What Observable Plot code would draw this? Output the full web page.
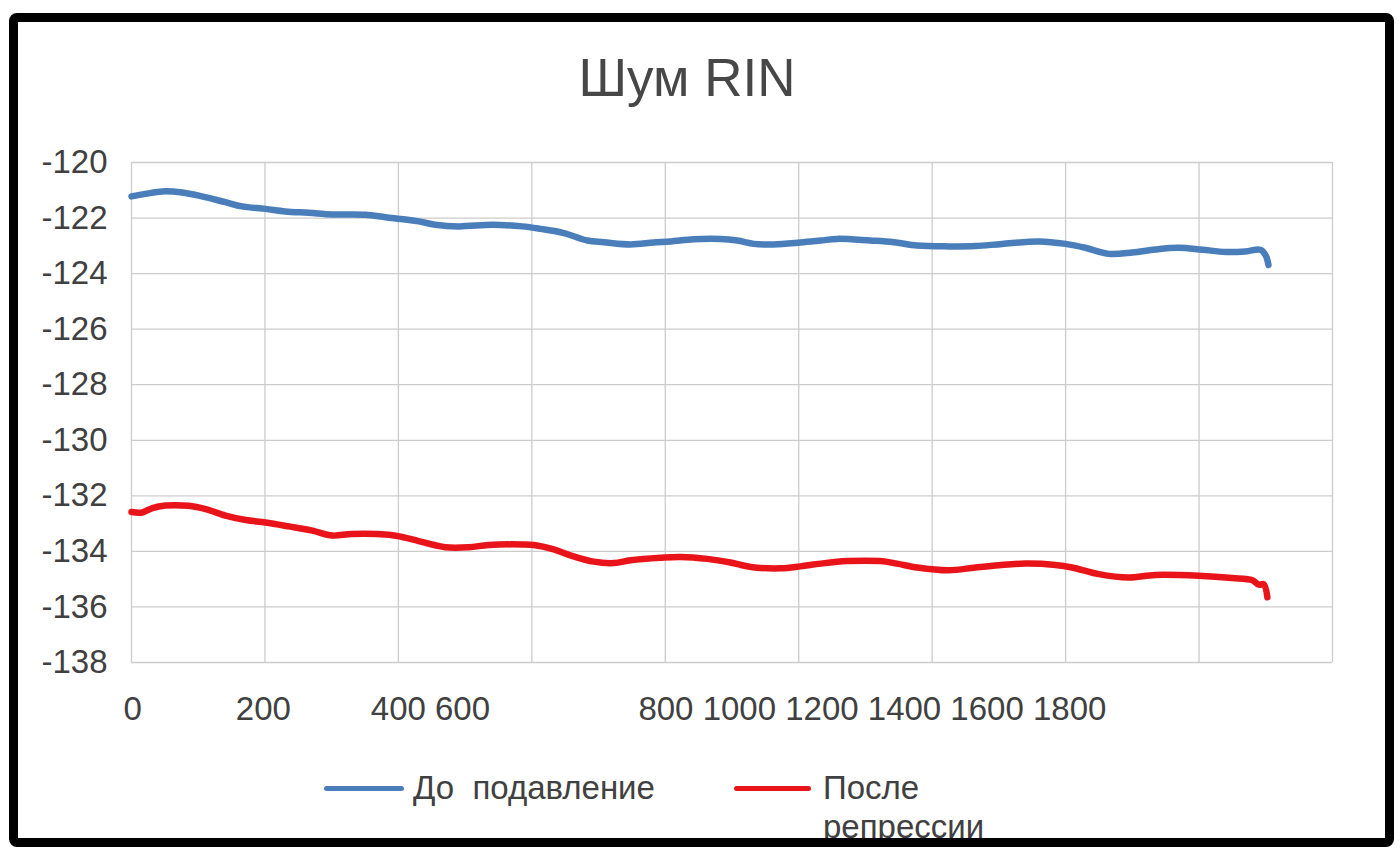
<!DOCTYPE html>
<html>
<head>
<meta charset="utf-8">
<script src="https://cdn.jsdelivr.net/npm/d3@7"></script>
<script src="https://cdn.jsdelivr.net/npm/@observablehq/plot@0.6"></script>
<style>
  html, body { margin: 0; padding: 0; background: #fff; }
  #wrap { position: relative; width: 1400px; height: 856px; overflow: hidden; background: #fff;
          font-family: "Liberation Sans", Arial, sans-serif; color: #404040; }
  #title { position: absolute; left: 0; width: 1374px; top: 51px; text-align: center;
           font-size: 53px; line-height: 54px; color: #474747; }
  #chart { position: absolute; left: 0; top: 120px; }
  .leg-line { position: absolute; height: 5px; border-radius: 3px; }
  .leg-text { position: absolute; font-size: 33px; line-height: 39px; color: #404040; }
  #frame { position: absolute; left: 9px; top: 13px; width: 1385px; height: 834px;
           box-sizing: border-box; border: 9px solid #000; border-radius: 8px; z-index: 10; }
</style>
</head>
<body>
<div id="wrap">
  <div id="title"></div>
  <div id="chart"></div>
  <div id="legend"></div>
  <div id="frame"></div>
</div>
<script>
// ---- data ----
const title = "Шум RIN";
const seriesNames = ["До  подавление", "После репрессии"];
const seriesColors = ["#4a7ebb", "#e8141a"];

const xLabels = ["0", "200", "400 600", "800 1000 1200 1400 1600 1800"];
const xLabelAt = [2, 247, 560, 1388];
const xGrid = [0, 250, 500, 750, 1000, 1250, 1500, 1750, 2000, 2250];
const yTicks = [-138, -136, -134, -132, -130, -128, -126, -124, -122, -120];

const beforeX = [0, 26, 57, 95, 132, 176, 207, 251, 288, 332, 376, 438, 476, 513, 538, 569, 613, 676, 732,
  766, 810, 854, 885, 935, 978, 1010, 1053, 1103, 1135, 1166, 1203, 1253, 1291, 1322, 1384, 1428, 1472,
  1531, 1581, 1631, 1700, 1750, 1787, 1831, 1875, 1918, 1962, 2006, 2050, 2087, 2115, 2125, 2130];
const beforeY = [-121.22, -121.13, -121.04, -121.08, -121.22, -121.43, -121.58, -121.67, -121.76, -121.81,
  -121.87, -121.88, -121.97, -122.05, -122.12, -122.24, -122.30, -122.24, -122.30,
  -122.39, -122.54, -122.81, -122.87, -122.95, -122.88, -122.84, -122.76, -122.75, -122.81, -122.93,
  -122.95, -122.88, -122.81, -122.75, -122.81, -122.87, -122.99,
  -123.02, -123.01, -122.93, -122.84, -122.93, -123.07, -123.29, -123.24, -123.13, -123.07, -123.14,
  -123.22, -123.20, -123.14, -123.35, -123.69];

const afterX = [0, 20, 39, 64, 107, 139, 176, 214, 251, 295, 339, 376, 413, 482, 507, 538, 588, 632, 669, 732,
  754, 791, 822, 866, 904, 935, 991, 1028, 1079, 1122, 1160, 1216, 1253, 1291, 1341, 1403, 1434, 1472,
  1531, 1581, 1625, 1675, 1731, 1762, 1812, 1868, 1918, 2000, 2062, 2100, 2112, 2121, 2128];
const afterY = [-132.58, -132.60, -132.44, -132.35, -132.36, -132.48, -132.71, -132.87, -132.96, -133.10,
  -133.25, -133.43, -133.37, -133.40, -133.48, -133.63, -133.85, -133.85, -133.77, -133.75,
  -133.77, -133.93, -134.14, -134.37, -134.42, -134.32, -134.23, -134.20, -134.27, -134.40, -134.56,
  -134.61, -134.54, -134.44, -134.35, -134.35, -134.44, -134.58,
  -134.68, -134.58, -134.50, -134.44, -134.49, -134.58, -134.82, -134.94, -134.85, -134.88, -134.96,
  -135.04, -135.20, -135.18, -135.65];

// ---- build ----
document.getElementById("title").textContent = title;

const before = beforeX.map((x, i) => ({x, y: beforeY[i]}));
const after = afterX.map((x, i) => ({x, y: afterY[i]}));

const chart = Plot.plot({
  width: 1400,
  height: 620,
  marginLeft: 131,
  marginRight: 68,
  marginTop: 42,
  marginBottom: 78,
  x: {domain: [0, 2250], label: null},
  y: {domain: [-138, -120], label: null},
  style: {fontFamily: "'Liberation Sans', Arial, sans-serif", fontSize: "33px", color: "#404040",
          background: "transparent", overflow: "visible"},
  marks: [
    Plot.gridX(xGrid, {stroke: "#cccccc", strokeOpacity: 1, strokeWidth: 1.3}),
    Plot.gridY(yTicks, {stroke: "#cccccc", strokeOpacity: 1, strokeWidth: 1.3}),
    Plot.axisY(yTicks, {tickSize: 0, tickPadding: 24, tickFormat: d => `${d}`}),
    Plot.axisX(xLabelAt, {tickSize: 0, tickPadding: 34, tickFormat: d => xLabels[xLabelAt.indexOf(d)]}),
    Plot.line(before, {x: "x", y: "y", stroke: seriesColors[0], strokeWidth: 6.5, curve: "catmull-rom",
      strokeLinejoin: "round", strokeLinecap: "round"}),
    Plot.line(after, {x: "x", y: "y", stroke: seriesColors[1], strokeWidth: 6.5, curve: "catmull-rom",
      strokeLinejoin: "round", strokeLinecap: "round"})
  ]
});
document.getElementById("chart").append(chart);

// legend
const legend = document.getElementById("legend");
const legPos = [{lx: 324, lw: 80, tx: 413}, {lx: 734, lw: 77, tx: 823}];
seriesNames.forEach((name, i) => {
  const line = document.createElement("div");
  line.className = "leg-line";
  line.style.left = legPos[i].lx + "px";
  line.style.width = legPos[i].lw + "px";
  line.style.top = "786px";
  line.style.background = seriesColors[i];
  legend.append(line);
  const t = document.createElement("div");
  t.className = "leg-text";
  t.style.left = legPos[i].tx + "px";
  t.style.top = "768px";
  t.style.whiteSpace = "pre-wrap";
  if (i === 1) t.style.width = "170px";
  t.textContent = name;
  legend.append(t);
});
</script>
</body>
</html>
